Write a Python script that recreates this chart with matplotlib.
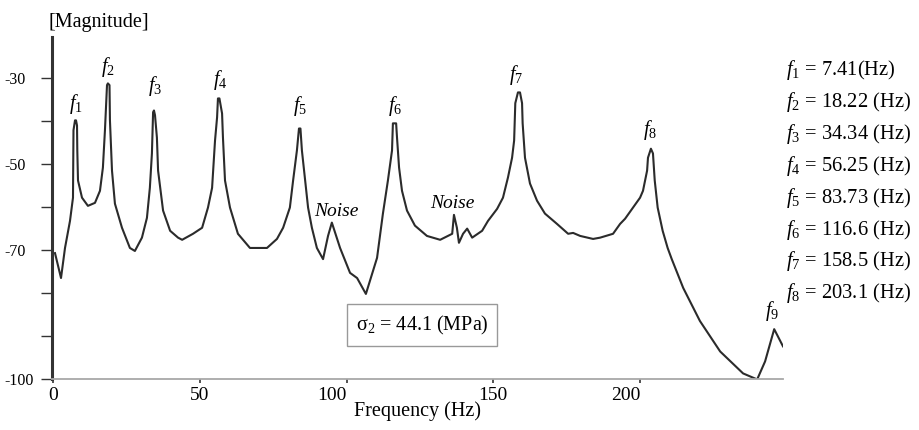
import numpy as np
import matplotlib
matplotlib.use("Agg")
from matplotlib import pyplot as plt

plt.rcParams["font.family"] = ["Liberation Serif", "DejaVu Serif"]
plt.rcParams["mathtext.fontset"] = "custom"
plt.rcParams["mathtext.rm"] = "Liberation Serif"
plt.rcParams["mathtext.it"] = "Liberation Serif:italic"

# Spectrum (frequency in Hz, magnitude)
freq = [0.68, 2.73, 4.09, 5.79, 6.81, 6.98, 7.50, 7.84, 8.18, 8.28, 8.52,
        9.88, 11.9, 14.3, 16.0, 17.0, 17.7, 18.4, 18.7, 19.25, 19.4, 20.1,
        21.1, 23.5, 26.2, 27.9, 30.3, 32.0, 33.0, 33.7, 34.1, 34.4, 34.75,
        35.4, 35.8, 37.5, 39.9, 42.6, 44.0, 47.7, 50.8, 52.8, 54.2, 55.2,
        55.9, 56.2, 56.7, 57.6, 57.9, 58.6, 60.3, 63.0, 67.1, 72.9, 76.3,
        78.4, 80.7, 81.8, 83.1, 83.8, 84.3, 84.8, 85.9, 86.9, 88.2, 89.9,
        92.0, 93.7, 95.0, 97.8, 101.2, 103.6, 106.6, 110.4, 112.4, 114.1,
        115.5, 115.8, 116.9, 117.2, 117.9, 118.9, 120.6, 123.3, 127.4,
        131.9, 136.0, 136.6, 137.6, 138.3, 139.7, 141.1, 142.8, 146.2,
        148.2, 151.3, 153.3, 155.0, 156.4, 157.1, 157.5, 158.4, 159.1,
        159.8, 160.0, 160.8, 162.5, 164.9, 167.6, 171.7, 175.5, 177.2,
        179.6, 184.0, 186.4, 190.8, 193.2, 194.9, 197.6, 200.0, 201.0,
        202.4, 202.7, 203.7, 204.4, 205.0, 206.0, 207.7, 209.4, 210.8,
        214.7, 220.4, 227.3, 235.1, 239.9, 242.6, 245.7, 248.7]
magnitude = [-70.7, -76.5, -69.5, -63.2, -57.8, -42.1, -39.8, -39.8, -41.0,
             -46.8, -53.8, -57.8, -59.7, -59.0, -56.2, -50.8, -42.1, -31.6,
             -31.2, -31.6, -39.8, -51.5, -59.2, -64.8, -69.5, -70.2, -67.1,
             -62.5, -55.5, -47.5, -37.9, -37.5, -38.6, -43.8, -51.5, -60.8,
             -65.5, -67.1, -67.6, -66.2, -64.8, -60.1, -55.5, -44.5, -39.1,
             -34.7, -34.7, -38.2, -43.8, -53.8, -60.1, -66.2, -69.5, -69.5,
             -67.4, -64.8, -60.1, -53.8, -46.8, -41.7, -41.7, -46.8, -53.8,
             -60.1, -64.8, -69.5, -72.1, -66.7, -63.6, -69.5, -75.3, -76.5,
             -80.2, -71.8, -61.5, -53.8, -46.8, -40.5, -40.5, -43.8, -50.8,
             -56.2, -60.8, -64.3, -66.7, -67.6, -66.2, -61.8, -64.8, -68.3,
             -66.2, -65.0, -67.1, -65.5, -63.2, -60.4, -57.8, -53.1, -48.5,
             -44.5, -35.8, -33.3, -33.3, -35.8, -40.5, -48.5, -54.5, -58.5,
             -61.5, -63.9, -66.2, -66.0, -66.7, -67.4, -67.1, -66.2, -63.9,
             -62.7, -60.1, -57.8, -56.2, -51.5, -48.5, -46.4, -47.5, -53.8,
             -60.1, -65.5, -69.5, -72.1, -78.8, -86.5, -93.6, -98.7, -100.1,
             -95.9, -88.4, -92.4]

peak_names = ["1", "2", "3", "4", "5", "6", "7", "8", "9"]
peak_label_x = [7.8, 18.7, 34.8, 56.9, 84.2, 116.5, 157.8, 203.4, 245.0]
peak_label_y = [-36.1, -27.4, -31.9, -30.5, -36.5, -36.5, -29.3, -42.1, -84.2]
noise_x = [96.4, 135.9]
noise_y = [-61.1, -59.2]

mode_names = ["1", "2", "3", "4", "5", "6", "7", "8"]
mode_values = ["7.41(Hz)", "18.22 (Hz)", "34.34 (Hz)", "56.25 (Hz)",
               "83.73 (Hz)", "116.6 (Hz)", "158.5 (Hz)", "203.1 (Hz)"]

W, H = 920, 430
fig = plt.figure(figsize=(W / 100, H / 100), dpi=100)
ax = fig.add_axes([52 / W, (H - 379) / H, 731 / W, 342 / H])

ax.plot(freq, magnitude, color="#2b2b2b", lw=1.5)
ax.set_xlim(-0.34, 248.7)
ax.set_ylim(-100, -20.4)

for side in ["top", "right"]:
    ax.spines[side].set_visible(False)
ax.spines["left"].set_color("#333333")
ax.spines["left"].set_linewidth(2.2)
ax.spines["bottom"].set_color("#a8a8a8")
ax.spines["bottom"].set_linewidth(1.3)

ax.set_xticks([0, 50, 100, 150, 200])
ax.set_xticklabels(["0", "50", "100", "150", "200"])
ax.tick_params(axis="x", direction="out", length=3, width=1.2,
               color="#333333", labelsize=14, pad=3)
for lab in ax.get_xticklabels():
    if lab.get_text() in ("100", "200"):
        lab.set_ha("right")

ax.set_yticks([-100, -90, -80, -70, -60, -50, -40, -30])
ax.set_yticklabels(["-100", "", "", "-70", "", "-50", "", "-30"])
ax.tick_params(axis="y", direction="out", length=8, width=1.0,
               color="#333333", labelsize=11.5, pad=26)
for lab in ax.get_yticklabels():
    lab.set_ha("left")

ax.set_xlabel("Frequency (Hz)", fontsize=14.5, labelpad=-2)
fig.text(49 / W, 1 - 22 / H, "[Magnitude]", fontsize=14.5, va="center")

for name, x, y in zip(peak_names, peak_label_x, peak_label_y):
    ax.text(x, y, r"$f_{\mathit{%s}}$" % name, fontsize=14.5,
            ha="center", va="center")
for x, y in zip(noise_x, noise_y):
    ax.text(x, y, "Noise", fontsize=14, style="italic",
            ha="center", va="center")

fig.text(422 / W, 1 - 325 / H, "σ$_2$ = 44.1 (MPa)", fontsize=14.5,
         ha="center", va="center",
         bbox=dict(boxstyle="square,pad=0.45", fc="white", ec="#999999",
                   lw=1.0))

for i, (name, value) in enumerate(zip(mode_names, mode_values)):
    fig.text(786 / W, 1 - (70 + 31.9 * i) / H,
             r"$f_{\mathit{%s}}$ = %s" % (name, value),
             fontsize=14.8, ha="left", va="center")

fig.savefig("out.png", dpi=100)
